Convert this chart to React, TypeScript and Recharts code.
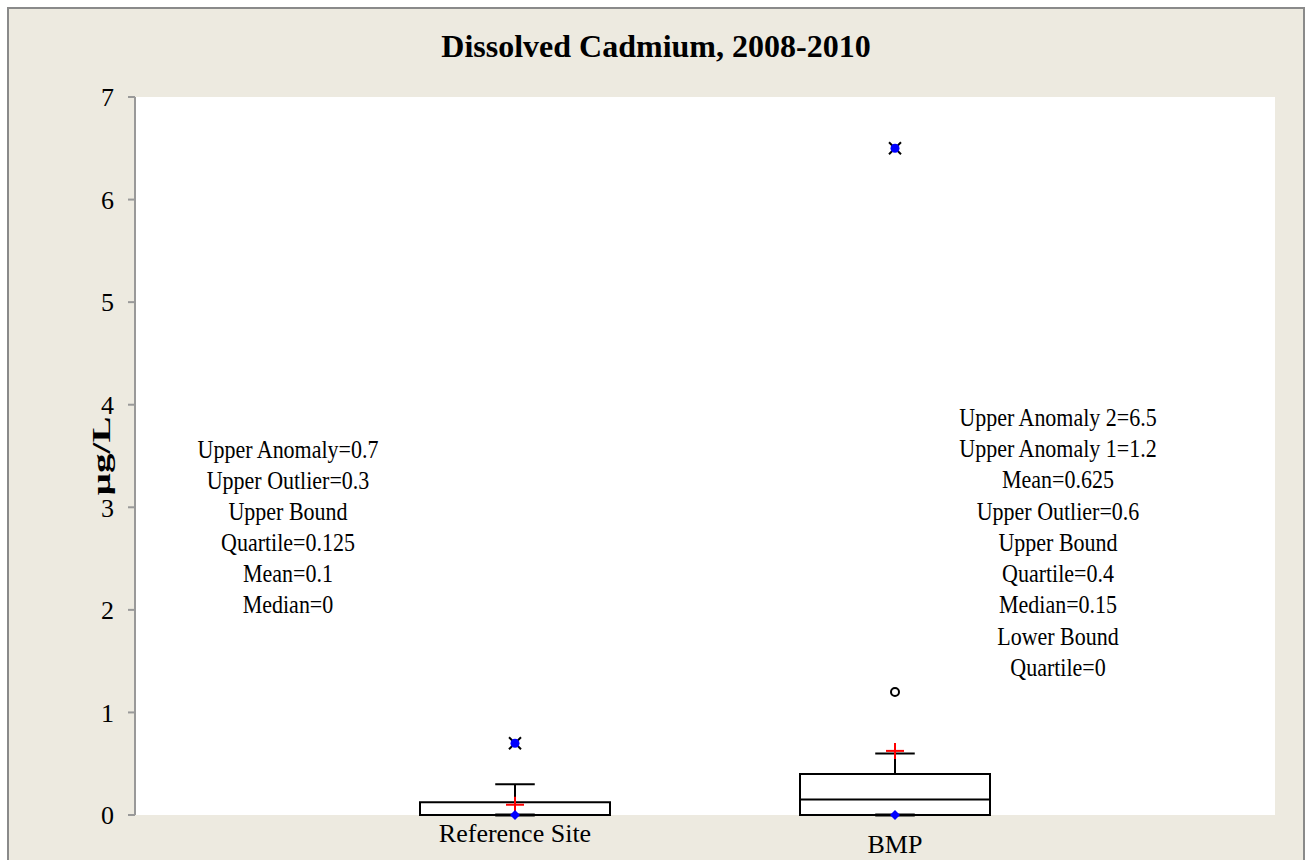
import React from 'react';
import {
  ComposedChart, XAxis, YAxis, CartesianGrid, ReferenceArea, ReferenceLine, Scatter, Customized,
} from 'recharts';

// ---- Data ----
const categories = ['Reference Site', 'BMP'];
const categoryPos = [1, 2];
const lowerQuartile = [0, 0];
const upperQuartile = [0.125, 0.4];
const medians = [0, 0.15];
const means = [0.1, 0.625];
const upperWhisker = [0.3, 0.6];
const lowerWhisker = [0, 0];
const anomalyStars = [
  { x: 1, y: 0.7 },
  { x: 2, y: 6.5 },
];
const anomalyCircles = [{ x: 2, y: 1.2 }];
const yTicks = [0, 1, 2, 3, 4, 5, 6, 7];
const leftNotes = [
  'Upper Anomaly=0.7',
  'Upper Outlier=0.3',
  'Upper Bound',
  'Quartile=0.125',
  'Mean=0.1',
  'Median=0',
];
const rightNotes = [
  'Upper Anomaly 2=6.5',
  'Upper Anomaly 1=1.2',
  'Mean=0.625',
  'Upper Outlier=0.6',
  'Upper Bound',
  'Quartile=0.4',
  'Median=0.15',
  'Lower Bound',
  'Quartile=0',
];

const FONT = '"Liberation Serif", "Times New Roman", serif';
const BOX_HALF = 0.25;
const CAP_HALF = 0.052;

const meanData = categoryPos.map((x, i) => ({ x, y: means[i] }));
const minData = categoryPos.map((x, i) => ({ x, y: lowerWhisker[i] }));

const CrossShape = (p: any) => {
  const { cx, cy } = p;
  return (
    <g>
      <line x1={cx - 9} x2={cx + 9} y1={cy} y2={cy} stroke="#FF0000" strokeWidth={2} />
      <line x1={cx} x2={cx} y1={cy - 8} y2={cy + 8} stroke="#FF0000" strokeWidth={2} />
    </g>
  );
};
const DiamondShape = (p: any) => {
  const { cx, cy } = p;
  return <polygon points={`${cx},${cy - 5} ${cx + 5},${cy} ${cx},${cy + 5} ${cx - 5},${cy}`} fill="#0000FF" />;
};
const StarShape = (p: any) => {
  const { cx, cy } = p;
  return (
    <g>
      <line x1={cx - 6} x2={cx + 6} y1={cy - 6} y2={cy + 6} stroke="#000" strokeWidth={2} />
      <line x1={cx - 6} x2={cx + 6} y1={cy + 6} y2={cy - 6} stroke="#000" strokeWidth={2} />
      <circle cx={cx} cy={cy} r={4.5} fill="#0000FF" />
    </g>
  );
};
const CircleShape = (p: any) => {
  const { cx, cy } = p;
  return <circle cx={cx} cy={cy} r={4} fill="#fff" stroke="#000" strokeWidth={2} />;
};

const XTick = (p: any) => {
  const { x, y, payload } = p;
  const idx = categoryPos.indexOf(payload.value);
  if (idx < 0) return null;
  return (
    <text x={x} y={y + (idx === 0 ? 19 : 30)} textAnchor="middle" fontFamily={FONT} fontSize={26} fill="#000">
      {categories[idx]}
    </text>
  );
};

const Annotations = () => (
  <g fontFamily={FONT} fontSize={22} fill="#000" textAnchor="middle">
    <text x={656} y={57} fontSize={32} fontWeight="bold">Dissolved Cadmium, 2008-2010</text>
    <text x={0} y={0} fontSize={26} fontWeight="bold" transform="translate(110,456) rotate(-90) scale(1.5,1)">µg/L</text>
    {leftNotes.map((t, i) => (
      <text key={t} x={288} y={458 + i * 31} transform={`translate(0, ${-(458 + i * 31) * 0.1}) scale(1,1.1)`}>{t}</text>
    ))}
    {rightNotes.map((t, i) => (
      <text key={t + i} x={1058} y={426 + i * 31.25} transform={`translate(0, ${-(426 + i * 31.25) * 0.1}) scale(1,1.1)`}>{t}</text>
    ))}
  </g>
);

export default function App() {
  return (
    <div style={{ position: 'absolute', left: 0, top: 0, width: 1305, height: 860, overflow: 'hidden', background: '#fff' }}>
      <div style={{ position: 'absolute', left: 7, top: 7, width: 1294, height: 900, borderLeft: '2px solid #8a8a8a', borderTop: '2px solid #8a8a8a', borderRight: '2px solid #8a8a8a', background: '#EDEAE0' }} />
      <div style={{ position: 'absolute', left: 0, top: 0 }}>
        <ComposedChart width={1305} height={860} margin={{ top: 97, right: 30, bottom: 0, left: 0 }}>
          <CartesianGrid fill="#FFFFFF" stroke="none" horizontal={false} vertical={false} />
          <XAxis
            dataKey="x"
            type="number"
            domain={[0, 3]}
            ticks={categoryPos}
            axisLine={false}
            tickLine={false}
            height={45}
            tick={<XTick />}
            allowDataOverflow
          />
          <YAxis
            type="number"
            domain={[0, 7]}
            ticks={yTicks}
            width={135}
            axisLine={{ stroke: '#999', strokeWidth: 2 }}
            tickLine={{ stroke: '#999', strokeWidth: 2 }}
            tickSize={7}
            tickMargin={14}
            tick={{ fontFamily: FONT, fontSize: 26, fill: '#000' }}
          />
          {categoryPos.map((x, i) => (
            <ReferenceArea
              key={'box' + i}
              x1={x - BOX_HALF}
              x2={x + BOX_HALF}
              y1={lowerQuartile[i]}
              y2={upperQuartile[i]}
              fill="#fff"
              fillOpacity={1}
              stroke="#000"
              strokeWidth={2}
              ifOverflow="visible"
            />
          ))}
          {categoryPos.map((x, i) => (
            <ReferenceLine
              key={'med' + i}
              segment={[{ x: x - BOX_HALF, y: medians[i] }, { x: x + BOX_HALF, y: medians[i] }]}
              stroke="#000"
              strokeWidth={2}
              ifOverflow="visible"
            />
          ))}
          {categoryPos.map((x, i) => (
            <ReferenceLine
              key={'wh' + i}
              segment={[{ x, y: upperQuartile[i] }, { x, y: upperWhisker[i] }]}
              stroke="#000"
              strokeWidth={2}
              ifOverflow="visible"
            />
          ))}
          {categoryPos.map((x, i) => (
            <ReferenceLine
              key={'cap' + i}
              segment={[{ x: x - CAP_HALF, y: upperWhisker[i] }, { x: x + CAP_HALF, y: upperWhisker[i] }]}
              stroke="#000"
              strokeWidth={2}
              ifOverflow="visible"
            />
          ))}
          {categoryPos.map((x, i) => (
            <ReferenceLine
              key={'lcap' + i}
              segment={[{ x: x - CAP_HALF, y: lowerWhisker[i] }, { x: x + CAP_HALF, y: lowerWhisker[i] }]}
              stroke="#000"
              strokeWidth={3}
              ifOverflow="visible"
            />
          ))}
          <Scatter data={meanData} dataKey="y" shape={<CrossShape />} isAnimationActive={false} />
          <Scatter data={minData} dataKey="y" shape={<DiamondShape />} isAnimationActive={false} />
          <Scatter data={anomalyStars} dataKey="y" shape={<StarShape />} isAnimationActive={false} />
          <Scatter data={anomalyCircles} dataKey="y" shape={<CircleShape />} isAnimationActive={false} />
          <Customized component={<Annotations />} />
        </ComposedChart>
      </div>
    </div>
  );
}
